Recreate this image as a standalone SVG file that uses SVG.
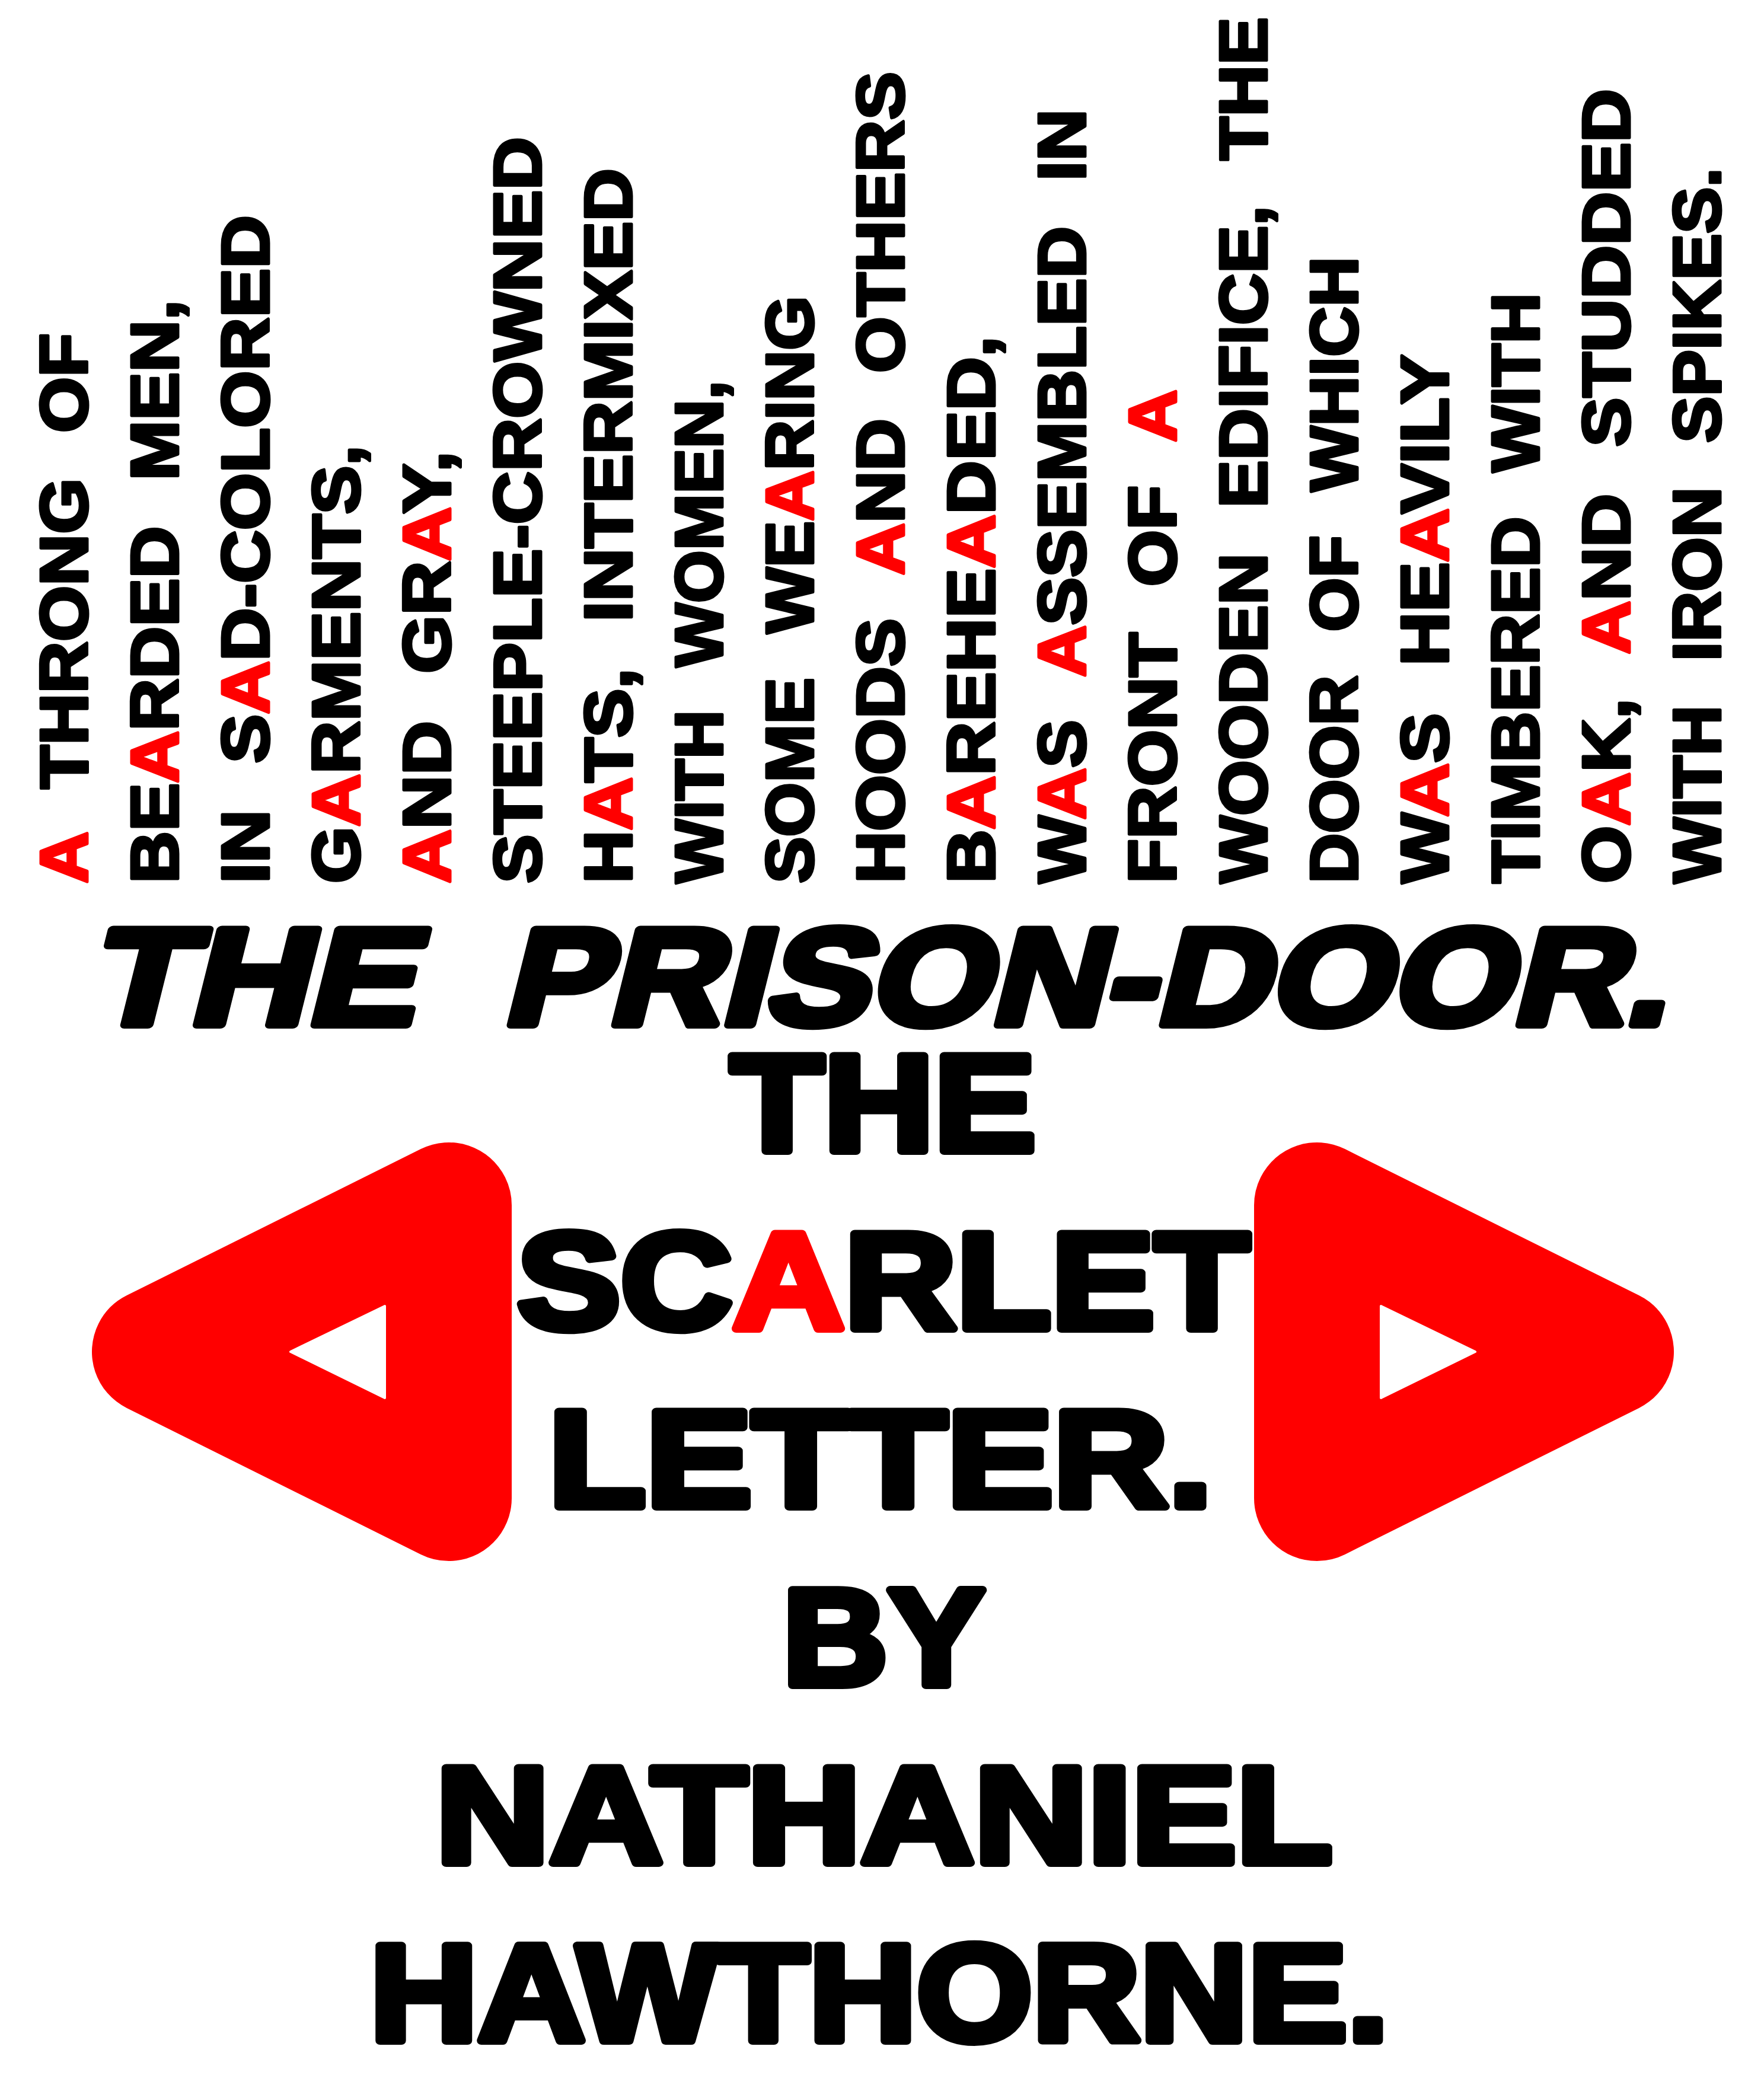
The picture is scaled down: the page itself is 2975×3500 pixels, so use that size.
<svg xmlns="http://www.w3.org/2000/svg" xmlns:xlink="http://www.w3.org/1999/xlink" width="2975" height="3500" viewBox="0 0 2975 3500">
<style>
.v{font-family:"Liberation Sans",Arial,sans-serif;font-weight:700;font-size:113px;word-spacing:40px;fill:#000;stroke:#000;stroke-width:5;stroke-linejoin:round}
.h{font-family:"Liberation Sans",Arial,sans-serif;font-weight:700;font-size:232px;fill:#000;stroke:#000;stroke-width:14;stroke-linejoin:round}
.r{fill:#f00;stroke:#f00}
.tri{fill:#f00;stroke:#f00;stroke-width:212;stroke-linejoin:round}
.hole{fill:#fff;stroke:#fff;stroke-width:4;stroke-linejoin:round}
</style>
<defs>
<g id="bigA">
<polygon class="tri" points="757,2033 757,2527 261,2280"/>
<polygon class="hole" points="490,2280 649,2203 649,2358"/>
</g>
</defs>
<rect width="2975" height="3500" fill="#fff"/>
<g id="columns">
<text class="v" transform="translate(146.5,1490) rotate(-90)" textLength="928" lengthAdjust="spacingAndGlyphs"><tspan class="r">A</tspan> THRONG OF</text>
<text class="v" transform="translate(299.5,1490) rotate(-90)" textLength="984" lengthAdjust="spacingAndGlyphs">BE<tspan class="r">A</tspan>RDED MEN,</text>
<text class="v" transform="translate(452.5,1490) rotate(-90)" textLength="1127" lengthAdjust="spacingAndGlyphs">IN S<tspan class="r">A</tspan>D-COLORED</text>
<text class="v" transform="translate(605.5,1490) rotate(-90)" textLength="739" lengthAdjust="spacingAndGlyphs">G<tspan class="r">A</tspan>RMENTS,</text>
<text class="v" transform="translate(758.5,1490) rotate(-90)" textLength="729" lengthAdjust="spacingAndGlyphs"><tspan class="r">A</tspan>ND GR<tspan class="r">A</tspan>Y,</text>
<text class="v" transform="translate(911.5,1490) rotate(-90)" textLength="1259" lengthAdjust="spacingAndGlyphs">STEEPLE-CROWNED</text>
<text class="v" transform="translate(1064.5,1490) rotate(-90)" textLength="1206" lengthAdjust="spacingAndGlyphs">H<tspan class="r">A</tspan>TS, INTERMIXED</text>
<text class="v" transform="translate(1217.5,1490) rotate(-90)" textLength="848" lengthAdjust="spacingAndGlyphs">WITH WOMEN,</text>
<text class="v" transform="translate(1370.5,1490) rotate(-90)" textLength="991" lengthAdjust="spacingAndGlyphs">SOME WE<tspan class="r">A</tspan>RING</text>
<text class="v" transform="translate(1523.5,1490) rotate(-90)" textLength="1369" lengthAdjust="spacingAndGlyphs">HOODS <tspan class="r">A</tspan>ND OTHERS</text>
<text class="v" transform="translate(1676.5,1490) rotate(-90)" textLength="923" lengthAdjust="spacingAndGlyphs">B<tspan class="r">A</tspan>REHE<tspan class="r">A</tspan>DED,</text>
<text class="v" transform="translate(1829.5,1490) rotate(-90)" textLength="1306" lengthAdjust="spacingAndGlyphs">W<tspan class="r">A</tspan>S <tspan class="r">A</tspan>SSEMBLED IN</text>
<text class="v" transform="translate(1982.5,1490) rotate(-90)" textLength="833" lengthAdjust="spacingAndGlyphs">FRONT OF <tspan class="r">A</tspan></text>
<text class="v" transform="translate(2135.5,1490) rotate(-90)" textLength="1461" lengthAdjust="spacingAndGlyphs">WOODEN EDIFICE, THE</text>
<text class="v" transform="translate(2288.5,1490) rotate(-90)" textLength="1057" lengthAdjust="spacingAndGlyphs">DOOR OF WHICH</text>
<text class="v" transform="translate(2441.5,1490) rotate(-90)" textLength="892" lengthAdjust="spacingAndGlyphs">W<tspan class="r">A</tspan>S HE<tspan class="r">A</tspan>VILY</text>
<text class="v" transform="translate(2594.5,1490) rotate(-90)" textLength="996" lengthAdjust="spacingAndGlyphs">TIMBERED WITH</text>
<text class="v" transform="translate(2747.5,1490) rotate(-90)" textLength="1340" lengthAdjust="spacingAndGlyphs">O<tspan class="r">A</tspan>K, <tspan class="r">A</tspan>ND STUDDED</text>
<text class="v" transform="translate(2900.5,1490) rotate(-90)" textLength="1207" lengthAdjust="spacingAndGlyphs">WITH IRON SPIKES.</text>
</g>
<g id="chapter-title">
<text class="h" transform="translate(147,1728) skewX(-14)" textLength="550" lengthAdjust="spacingAndGlyphs">THE</text>
<text class="h" transform="translate(845,1728) skewX(-14)" textLength="1965" lengthAdjust="spacingAndGlyphs">PRISON-DOOR.</text>
</g>
<g id="emblem-left"><use xlink:href="#bigA" href="#bigA"/></g>
<g id="emblem-right"><use xlink:href="#bigA" href="#bigA" transform="translate(2978,0) scale(-1,1)"/></g>
<g id="book-title">
<text class="h" x="1232" y="1941" textLength="515" lengthAdjust="spacingAndGlyphs">THE</text>
<text class="h" x="872" y="2241" textLength="1235" lengthAdjust="spacingAndGlyphs">SC<tspan class="r">A</tspan>RLET</text>
<text class="h" x="925" y="2541" textLength="1120" lengthAdjust="spacingAndGlyphs">LETTER.</text>
</g>
<g id="author">
<text class="h" x="1320" y="2842" textLength="341" lengthAdjust="spacingAndGlyphs">BY</text>
<text class="h" x="735" y="3142" textLength="1512" lengthAdjust="spacingAndGlyphs">NATHANIEL</text>
<text class="h" x="624" y="3442" textLength="1718" lengthAdjust="spacingAndGlyphs">HAWTHORNE.</text>
</g>
</svg>
